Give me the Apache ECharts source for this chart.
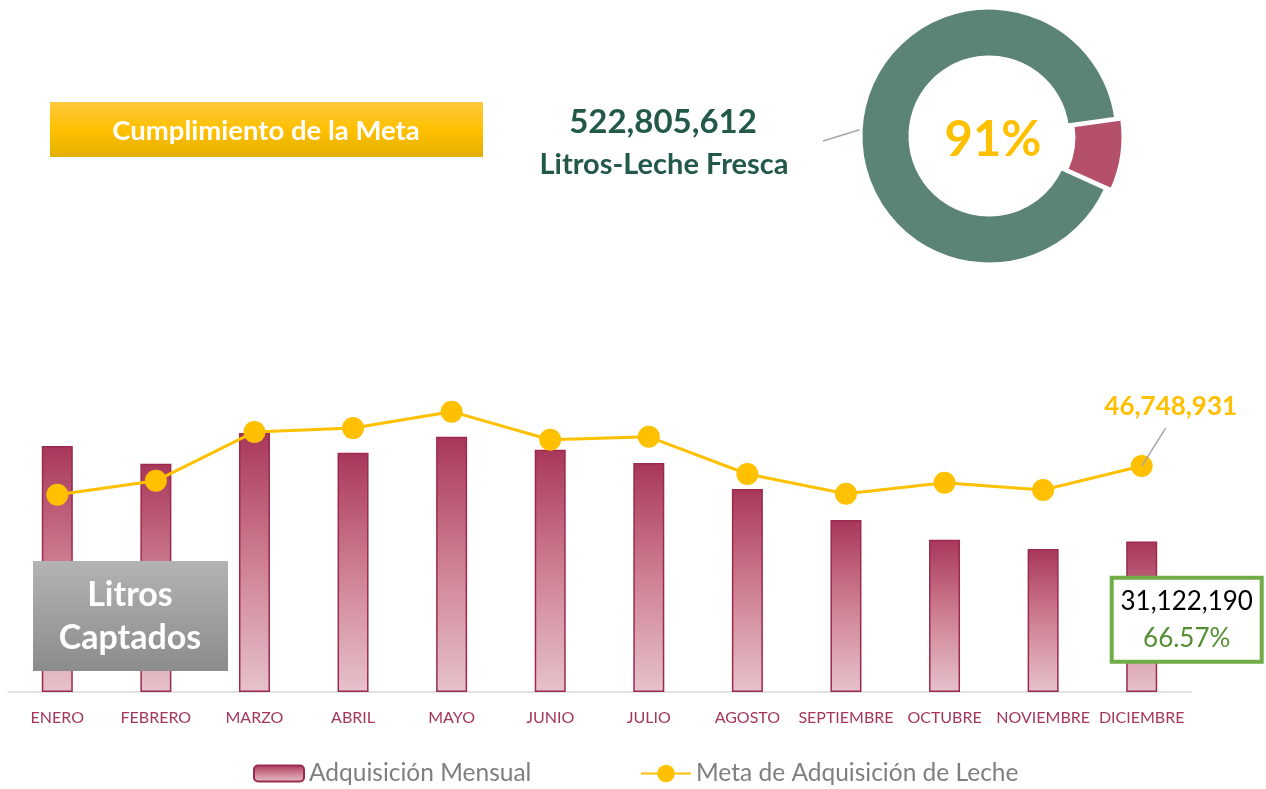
<!DOCTYPE html>
<html>
<head>
<meta charset="utf-8">
<script src="https://cdn.jsdelivr.net/npm/echarts@6/dist/echarts.min.js"></script>
<style>
  html, body { margin: 0; padding: 0; background: #fff; }
  #main { width: 1266px; height: 789px; }
</style>
</head>
<body>
<div id="main"></div>
<script>
// datos
var meses = ['ENERO', 'FEBRERO', 'MARZO', 'ABRIL', 'MAYO', 'JUNIO', 'JULIO', 'AGOSTO', 'SEPTIEMBRE', 'OCTUBRE', 'NOVIEMBRE', 'DICIEMBRE'];
var adquisicion = [50900000, 47200000, 53600000, 49500000, 52800000, 50100000, 47400000, 42000000, 35600000, 31500000, 29600000, 31122190];
var meta = [40800000, 43700000, 53800000, 54600000, 58000000, 52200000, 52800000, 45100000, 41000000, 43300000, 41800000, 46748931];
var cumplimiento = [91, 9]; // % cumplido / faltante
var totalLitros = '522,805,612';

var FONT = 'Lato, "Open Sans", sans-serif';
var fmt = function (v) { return v.toLocaleString('en-US'); };

var last = meses.length - 1;
var pct = (adquisicion[last] / meta[last] * 100).toFixed(2) + '%';

var barData = adquisicion.map(function (v, i) {
    if (i !== last) return v;
    return {
        value: v,
        label: {
            show: true,
            position: 'inside',
            offset: [45, 3],
            formatter: '{a|' + fmt(v) + '}\n{b|' + pct + '}',
            backgroundColor: '#fff',
            borderColor: '#70ad47',
            borderWidth: 4,
            width: 146,
            align: 'center',
            padding: [3, 0, 3, 0],
            rich: {
                a: { fontFamily: FONT, fontSize: 26, color: '#000', lineHeight: 37, align: 'center' },
                b: { fontFamily: FONT, fontSize: 26, color: '#548f34', lineHeight: 37, align: 'center' }
            }
        }
    };
});

var lineData = meta.map(function (v, i) {
    if (i !== last) return v;
    return {
        value: v,
        label: {
            show: true,
            position: 'top',
            offset: [29, -30],
            formatter: fmt(v),
            fontFamily: FONT,
            fontWeight: 'bold',
            fontSize: 26,
            color: '#ffc000'
        }
    };
});

var chart = echarts.init(document.getElementById('main'));

var legendText = { fontFamily: FONT, fontSize: 24.5, color: '#7f7f7f' };

var option = {
    backgroundColor: '#fff',
    animation: false,
    grid: { left: 8, width: 1183, top: 402, bottom: 97, containLabel: false },
    legend: [
        {
            left: 248,
            top: 756,
            itemWidth: 50,
            itemHeight: 16,
            textStyle: legendText,
            data: ['Adquisición Mensual']
        },
        {
            left: 635,
            top: 756,
            itemWidth: 50,
            itemHeight: 22,
            textStyle: legendText,
            data: ['Meta de Adquisición de Leche']
        }
    ],
    xAxis: {
        type: 'category',
        data: meses,
        axisTick: { show: false },
        axisLine: { lineStyle: { color: '#d9d9d9', width: 1.5 } },
        axisLabel: { interval: 0, margin: 18, fontFamily: FONT, fontSize: 16, color: '#a5365b' }
    },
    yAxis: {
        type: 'value',
        min: 0,
        max: 60000000,
        show: false,
        splitLine: { show: false }
    },
    series: [
        {
            name: 'Adquisición Mensual',
            type: 'bar',
            barWidth: 31,
            data: barData,
            itemStyle: {
                color: new echarts.graphic.LinearGradient(0, 0, 0, 1, [
                    { offset: 0, color: '#a8375a' },
                    { offset: 0.5, color: '#cf8093' },
                    { offset: 1, color: '#e6c2cb' }
                ]),
                borderColor: '#9b2a4e',
                borderWidth: 1.5
            },
            z: 2
        },
        {
            name: 'Meta de Adquisición de Leche',
            type: 'line',
            data: lineData,
            symbol: 'circle',
            symbolSize: 22,
            lineStyle: { color: '#ffc000', width: 3 },
            itemStyle: { color: '#ffc000' },
            z: 3
        },
        {
            name: 'cumplimiento',
            type: 'pie',
            center: [989, 136],
            radius: [79, 128],
            startAngle: 8,
            clockwise: true,
            selectedMode: 'single',
            selectedOffset: 6,
            label: { show: false },
            labelLine: { show: false },
            emphasis: { disabled: true },
            itemStyle: { borderColor: '#fff', borderWidth: 3 },
            data: [
                { value: cumplimiento[1], name: 'Faltante', selected: true, itemStyle: { color: '#b5506a' } },
                { value: cumplimiento[0], name: 'Cumplido', itemStyle: { color: '#5b8476' } }
            ]
        }
    ],
    graphic: [
        {
            type: 'rect',
            shape: { x: 50, y: 102, width: 433, height: 55 },
            style: {
                fill: new echarts.graphic.LinearGradient(0, 0, 0, 1, [
                    { offset: 0, color: '#ffc93f' },
                    { offset: 0.5, color: '#ffc000' },
                    { offset: 1, color: '#e3b000' }
                ])
            }
        },
        {
            type: 'text',
            x: 266, y: 131,
            style: {
                text: 'Cumplimiento de la Meta',
                fontFamily: FONT, fontWeight: 'bold', fontSize: 27.5,
                fill: '#fff', align: 'center', verticalAlign: 'middle'
            }
        },
        {
            type: 'text',
            x: 663, y: 122,
            style: {
                text: totalLitros,
                fontFamily: FONT, fontWeight: 'bold', fontSize: 33,
                fill: '#23594a', align: 'center', verticalAlign: 'middle'
            }
        },
        {
            type: 'text',
            x: 664, y: 165,
            style: {
                text: 'Litros-Leche Fresca',
                fontFamily: FONT, fontWeight: 'bold', fontSize: 29,
                fill: '#23594a', align: 'center', verticalAlign: 'middle'
            }
        },
        {
            type: 'line',
            shape: { x1: 823, y1: 141, x2: 885, y2: 122 },
            style: { stroke: '#a6a6a6', lineWidth: 1.5 }
        },
        {
            type: 'text',
            x: 993, y: 140,
            style: {
                text: cumplimiento[0] + '%',
                fontFamily: FONT, fontWeight: 'bold', fontSize: 49,
                fill: '#ffc000', align: 'center', verticalAlign: 'middle'
            }
        },
        {
            type: 'rect',
            shape: { x: 33, y: 561, width: 195, height: 110 },
            style: {
                fill: new echarts.graphic.LinearGradient(0, 0, 0, 1, [
                    { offset: 0, color: '#b3b3b3' },
                    { offset: 1, color: '#8c8c8c' }
                ])
            },
            z: 10
        },
        {
            type: 'text',
            x: 130, y: 617,
            style: {
                text: 'Litros\nCaptados',
                fontFamily: FONT, fontWeight: 'bold', fontSize: 34, lineHeight: 43,
                fill: '#fff', align: 'center', verticalAlign: 'middle'
            },
            z: 11
        }
    ]
};

chart.setOption(option);

// línea guía de la etiqueta de la meta de diciembre
var p = chart.convertToPixel({ seriesIndex: 1 }, [last, meta[last]]);
chart.setOption({
    graphic: option.graphic.concat([{
        type: 'line',
        shape: { x1: p[0], y1: p[1], x2: p[0] + 24, y2: p[1] - 38 },
        style: { stroke: '#a6a6a6', lineWidth: 1.5 },
        z: 10
    }])
});
</script>
</body>
</html>
